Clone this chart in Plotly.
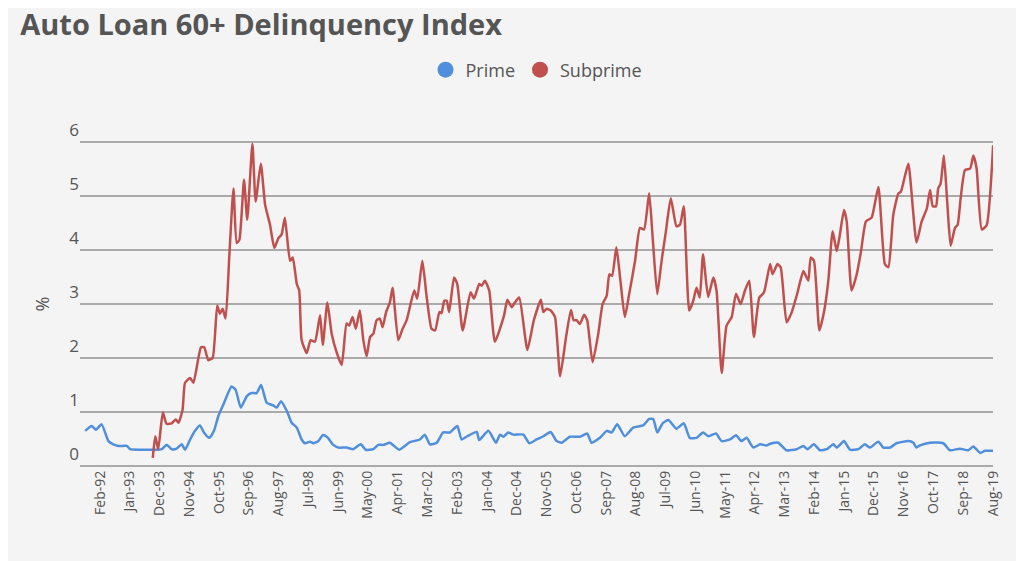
import pandas as pd
import plotly.graph_objects as go

# months counted from Feb-1992 (0 = Feb-92), values in %
prime_months = [-5.5, -3.1, -1.5, 0.6, 3.1, 4.9, 6.8, 9.9, 11.1, 14.8, 19.7, 22.8, 24.6, 26.5, 28.3, 30.2,
                31.4, 33.3, 35.1, 36.9, 38.4, 40.4, 42.1, 43.7, 45.6, 48.6, 50.1, 52, 54.2, 56, 57.9, 59.5,
                61.6, 64, 65.3, 66.9, 69, 70.8, 72.7, 74.5, 75.7, 77.6, 78.8, 80.7, 82.3, 84, 86.2, 88,
                91.1, 93.6, 96.3, 98.2, 101, 102.8, 104.7, 107.1, 110.5, 114.5, 118.2, 120, 121.9, 124.4,
                126.8, 129.3, 132, 133.6, 135.7, 139.2, 140.1, 143.5, 146.3, 147.8, 149.1, 150.8, 152.7,
                156.4, 158.6, 161.3, 163.8, 166.5, 168.7, 170.6, 173.6, 177.3, 180, 181.6, 184.7, 187.2,
                189, 191.1, 193.9, 197, 200.7, 202.9, 204.4, 205.9, 207.9, 210, 213, 215.7, 217.9, 220.4,
                222.8, 224.8, 227.6, 229.7, 232.8, 235, 237, 238.9, 241.4, 243.9, 246.3, 248.2, 250.6,
                253.7, 257.4, 259.9, 261.4, 263.8, 266, 268.5, 271, 272.2, 274.9, 277.1, 280.2, 282.6,
                284.5, 287.6, 289.4, 291.9, 294.3, 298.7, 300.5, 301.7, 303, 306.7, 311.6, 314, 317.7,
                320.8, 322.7, 325.2, 327, 330]
prime_values = [0.65, 0.74, 0.67, 0.77, 0.46, 0.40, 0.37, 0.37, 0.31, 0.30, 0.30, 0.31, 0.39, 0.31, 0.32, 0.40,
                0.30, 0.49, 0.65, 0.75, 0.62, 0.52, 0.65, 0.92, 1.14, 1.47, 1.41, 1.08, 1.29, 1.35, 1.35, 1.50,
                1.17, 1.12, 1.08, 1.20, 1.02, 0.80, 0.71, 0.49, 0.42, 0.45, 0.42, 0.46, 0.57, 0.53, 0.39, 0.34,
                0.34, 0.31, 0.40, 0.30, 0.31, 0.39, 0.39, 0.43, 0.30, 0.44, 0.49, 0.58, 0.40, 0.43,
                0.62, 0.62, 0.74, 0.49, 0.55, 0.63, 0.48, 0.65, 0.43, 0.58, 0.54, 0.62, 0.58,
                0.58, 0.42, 0.49, 0.55, 0.63, 0.46, 0.43, 0.54, 0.54, 0.60, 0.43, 0.52, 0.65,
                0.62, 0.77, 0.55, 0.71, 0.75, 0.87, 0.87, 0.62, 0.79, 0.85, 0.69, 0.79, 0.52, 0.52,
                0.62, 0.55, 0.60, 0.46, 0.49, 0.57, 0.46, 0.52, 0.34, 0.40, 0.38, 0.42, 0.43,
                0.29, 0.31, 0.37, 0.31, 0.40, 0.29, 0.31, 0.40, 0.34, 0.46, 0.30, 0.31, 0.40,
                0.34, 0.45, 0.34, 0.34, 0.42, 0.46, 0.43, 0.34, 0.38, 0.43, 0.42, 0.29, 0.32,
                0.29, 0.36, 0.24, 0.28, 0.28]

subprime_months = [19.5, 20.4, 21.5, 23.2, 24.6, 26.5, 28, 29, 30.5, 31.4, 33.3, 34.5, 37.3, 38.5, 40, 41.6,
                   43.3, 44.3, 45.3, 46.4, 47.8, 49.3, 50.5, 51.5, 53.2, 54.4, 56.3, 57.5, 59.4, 61, 62.8,
                   64.4, 65.9, 67.1, 68.3, 70.2, 71.2, 72.7, 73.6, 74.5, 76.4, 77.8, 79.4, 81.3, 82.3, 84,
                   85.6, 87.4, 89.3, 91.1, 92.1, 93.3, 94.5, 96, 97.3, 98.5, 99.8, 101, 102.2, 103.4, 104.4,
                   105.7, 107.1, 108.1, 110.2, 111.8, 113.3, 116.1, 117.2, 119.1, 120.7, 122.5, 123.8,
                   125.4, 126.2, 127.2, 128.1, 129, 130.8, 132, 134, 136.9, 138.2, 140.1, 141, 142.2,
                   143.8, 145.9, 149.3, 150.5, 152.1, 153.3, 154.9, 157.9, 160.3, 162.9, 163.8, 165,
                   166.5, 168.1, 170, 172.2, 174, 175, 176.1, 177.3, 178.9, 180, 182, 184.1, 185.7, 187.2,
                   188.2, 189.2, 190.8, 192.3, 193.9, 195.5, 197.7, 199.5, 201, 202.9, 204.2, 205.9,
                   207.5, 209.1, 210.9, 213, 214.3, 215.7, 217.7, 219.2, 220.4, 221.6, 222.8, 224.7,
                   226.6, 227.8, 229.7, 231.5, 233.4, 235, 236.7, 238.3, 239.9, 241.6, 243.6, 245.3,
                   247.6, 248.5, 250.3, 251.5, 253.7, 255.6, 257.6, 259.9, 261.7, 262.6, 263.8, 265.8,
                   267.5, 269.1, 270.7, 272.2, 273.2, 274.9, 275.9, 277.7, 279.6, 281.2, 283, 285.1,
                   287.6, 290, 291.3, 293.1, 295, 295.9, 297.5, 298.7, 301.7, 303.6, 305.5, 306.7,
                   307.7, 308.9, 309.7, 310.6, 311.8, 313.1, 314.3, 315.9, 316.9, 318, 319.6, 321.5,
                   322.7, 323.9, 325.8, 327.6, 330]
subprime_values = [0.15, 0.55, 0.31, 0.99, 0.78, 0.79, 0.86, 0.80, 1.04, 1.54, 1.63, 1.54, 2.20, 2.20, 1.96, 2.00,
                   2.97, 2.82, 2.91, 2.73, 3.92, 5.14, 4.13, 4.19, 5.30, 4.56, 5.97, 4.90, 5.60, 4.84, 4.47,
                   4.04, 4.22, 4.29, 4.60, 3.80, 3.86, 3.37, 3.25, 2.33, 2.09, 2.33, 2.30, 2.79, 2.24, 3.03,
                   2.45, 2.11, 1.87, 2.64, 2.60, 2.76, 2.54, 2.88, 2.33, 2.03, 2.39, 2.45, 2.70, 2.73, 2.57,
                   2.85, 3.03, 3.30, 2.33, 2.54, 2.70, 3.25, 3.10, 3.80, 3.13, 2.54, 2.51,
                   2.85, 2.83, 3.06, 3.06, 2.85, 3.49, 3.37, 2.51, 3.22, 3.10, 3.37, 3.34, 3.43,
                   3.25, 2.30, 2.79, 3.08, 2.94, 3.03, 3.12, 2.15, 2.70, 3.08, 2.85, 2.91,
                   2.88, 2.76, 1.66, 2.39, 2.89, 2.70, 2.70, 2.63, 2.80, 2.70, 1.92, 2.45, 3.00, 3.15,
                   3.55, 3.52, 4.05, 3.43, 2.76, 3.18, 3.80, 4.41, 4.38, 5.05, 4.23, 3.18,
                   3.80, 4.35, 4.96, 4.44, 4.47, 4.81, 2.88, 3.06, 3.30, 3.12, 3.92, 3.13,
                   3.49, 3.25, 1.72, 2.60, 2.76, 3.19, 3.00, 3.25, 3.43, 2.39, 3.12, 3.21,
                   3.74, 3.55, 3.74, 3.68, 2.66, 2.85, 3.19, 3.61, 3.43, 3.86, 3.80, 2.51,
                   2.85, 3.43, 4.35, 3.98, 4.23, 4.74, 4.53, 3.25, 3.55, 3.98, 4.53, 4.60,
                   5.17, 3.74, 3.68, 4.65, 5.05, 5.08, 5.39, 5.60, 4.14, 4.53, 4.77, 5.11,
                   4.81, 4.81, 5.14, 5.23, 5.75, 4.84, 4.08, 4.41, 4.47, 4.96, 5.48, 5.51,
                   5.75, 5.51, 4.38, 4.46, 5.94]

tick_labels = ["Feb-92", "Jan-93", "Dec-93", "Nov-94", "Oct-95", "Sep-96", "Aug-97", "Jul-98", "Jun-99",
               "May-00", "Apr-01", "Mar-02", "Feb-03", "Jan-04", "Dec-04", "Nov-05", "Oct-06", "Sep-07",
               "Aug-08", "Jul-09", "Jun-10", "May-11", "Apr-12", "Mar-13", "Feb-14", "Jan-15", "Dec-15",
               "Nov-16", "Oct-17", "Sep-18", "Aug-19"]

BASE = pd.Timestamp("1992-02-01")


def to_dates(months):
    return [BASE + pd.to_timedelta(m * 30.4375, unit="D") for m in months]


tick_vals = pd.to_datetime(tick_labels, format="%b-%y")

BLUE = "#4f8fdc"
RED = "#c0504d"
GREY = "#555555"

fig = go.Figure()
fig.add_trace(go.Scatter(x=to_dates(prime_months), y=prime_values, mode="lines",
                         line=dict(color=BLUE, width=2.5, shape="spline", smoothing=0.5), showlegend=False))
fig.add_trace(go.Scatter(x=to_dates(subprime_months), y=subprime_values, mode="lines",
                         line=dict(color=RED, width=2.5, shape="spline", smoothing=0.5), showlegend=False))
# legend entries as round dots
for name, col in [("Prime", BLUE), ("Subprime", RED)]:
    fig.add_trace(go.Scatter(x=[None], y=[None], mode="markers", name=name,
                             marker=dict(color=col, size=18)))

# page is drawn with an 8px body margin, so everything is shifted up/left by 8px
fig.update_layout(
    width=1024, height=561,
    paper_bgcolor="#f4f4f4", plot_bgcolor="#f4f4f4",
    font=dict(family="Open Sans", color=GREY),
    margin=dict(l=72, r=39, t=133, b=102),
    title=dict(text="<b>Auto Loan 60+ Delinquency Index</b>", x=0.012, xanchor="left",
               y=0.97, yanchor="middle", font=dict(size=29, color=GREY)),
    legend=dict(orientation="h", x=0.5, xanchor="center", y=1.218, yanchor="middle",
                font=dict(size=18, color=GREY), itemwidth=30),
    xaxis=dict(range=[BASE - pd.to_timedelta(7.4 * 30.4375, unit="D"), tick_vals[-1]],
               tickvals=tick_vals, ticktext=tick_labels, tickangle=-90, showgrid=False,
               tickfont=dict(size=14, color=GREY), zeroline=False, ticks=""),
    yaxis=dict(range=[-0.02, 6.02], tickvals=[0, 1, 2, 3, 4, 5, 6], showgrid=True,
               gridcolor="#aaaaaa", gridwidth=1.5,
               zeroline=False, ticklabelposition="outside top", tickfont=dict(size=17, color=GREY),
               title=dict(text="%", font=dict(size=18, color=GREY), standoff=14)),
)

fig.write_html("out.html")
